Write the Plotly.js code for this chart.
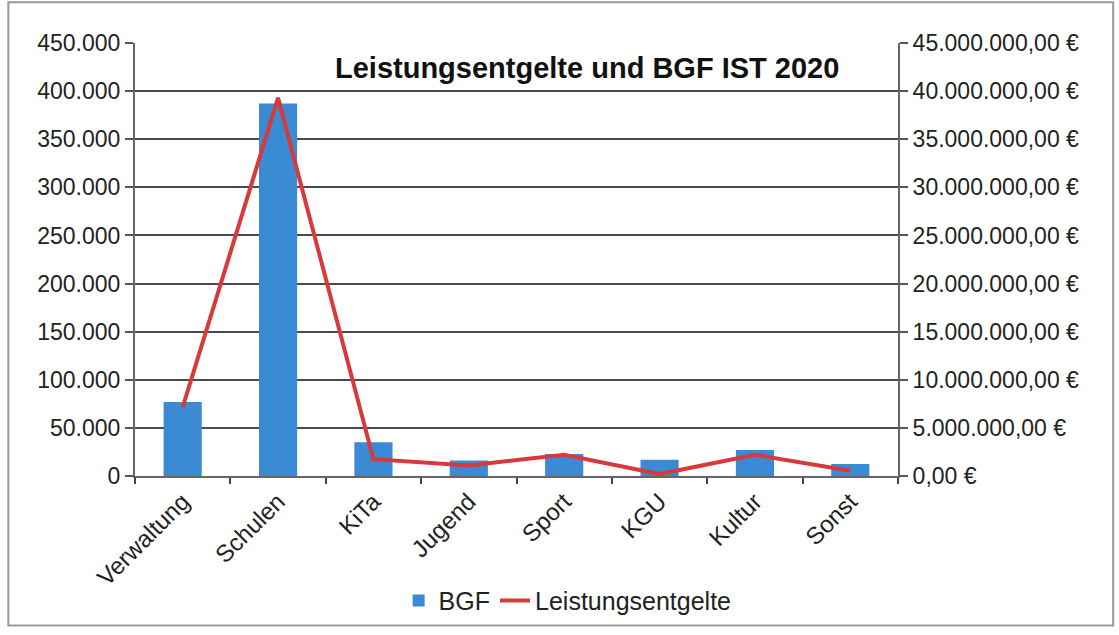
<!DOCTYPE html>
<html>
<head>
<meta charset="utf-8">
<script src="https://cdn.plot.ly/plotly-3.0.1.min.js"></script>
<style>
  html, body { margin: 0; padding: 0; background: #fff; }
  #chart { width: 1119px; height: 635px; }
</style>
</head>
<body>
<div id="chart"></div>
<script>
var categories = ["Verwaltung", "Schulen", "KiTa", "Jugend", "Sport", "KGU", "Kultur", "Sonst"];
var bgfVals = [77000, 387000, 35000, 16000, 22800, 17000, 27000, 12500];
var entgeltVals = [7150000, 39300000, 1750000, 1100000, 2200000, 200000, 2200000, 550000];

var fontFam = "Liberation Sans, Arial, sans-serif";
var tickFont = { family: fontFam, size: 23, color: "#222" };

var data = [{
	x: categories,
	y: bgfVals,
	type: "bar",
	name: "BGF",
	marker: { color: "#3b8bd4" },
	yaxis: "y"
}, {
	x: categories,
	y: entgeltVals,
	type: "scatter",
	mode: "lines",
	name: "Leistungsentgelte",
	line: { color: "#d8393b", width: 4 },
	yaxis: "y2"
}];

var layout = {
	width: 1119,
	height: 635,
	margin: { l: 135, r: 221, t: 43, b: 158 },
	paper_bgcolor: "#fff",
	plot_bgcolor: "#fff",
	separators: ",.",
	bargap: 0.6,
	showlegend: true,
	font: tickFont,
	xaxis: {
		showline: true, linecolor: "#666", linewidth: 2,
		ticks: "outside", tickson: "boundaries", ticklen: 6, tickcolor: "#444", tickwidth: 2,
		tickangle: -45, tickfont: { family: fontFam, size: 24, color: "#222" },
		showgrid: false
	},
	yaxis: {
		range: [0, 450000], dtick: 50000, tickformat: ",d",
		showline: true, linecolor: "#666", linewidth: 2,
		ticks: "outside", ticklen: 8, tickcolor: "#555", tickwidth: 2,
		showgrid: true, gridcolor: "#4a4a4a", gridwidth: 2,
		zeroline: false, tickfont: tickFont
	},
	yaxis2: {
		overlaying: "y", side: "right",
		range: [0, 45000000], dtick: 5000000, tickformat: ",.2f", ticksuffix: " €",
		showline: true, linecolor: "#666", linewidth: 2,
		ticks: "outside", ticklen: 8, tickcolor: "#555", tickwidth: 2,
		showgrid: false, zeroline: false, tickfont: tickFont
	},
	legend: {
		orientation: "h", x: 0.567, xanchor: "center", y: -0.285, yanchor: "middle",
		font: { family: fontFam, size: 25, color: "#222" },
		bgcolor: "rgba(0,0,0,0)"
	},
	annotations: [{
		text: "<b>Leistungsentgelte und BGF IST 2020</b>",
		xref: "paper", yref: "paper", x: 0.592, y: 0.942,
		xanchor: "center", yanchor: "middle", showarrow: false,
		font: { family: fontFam, size: 29, color: "#111" }
	}],
	shapes: [{
		type: "rect", xref: "paper", yref: "paper",
		x0: -0.166, x1: 1.282, y0: -0.345, y1: 1.094,
		line: { color: "#999", width: 2 }
	}]
};

Plotly.newPlot("chart", data, layout, { displayModeBar: false, staticPlot: true });
</script>
</body>
</html>
